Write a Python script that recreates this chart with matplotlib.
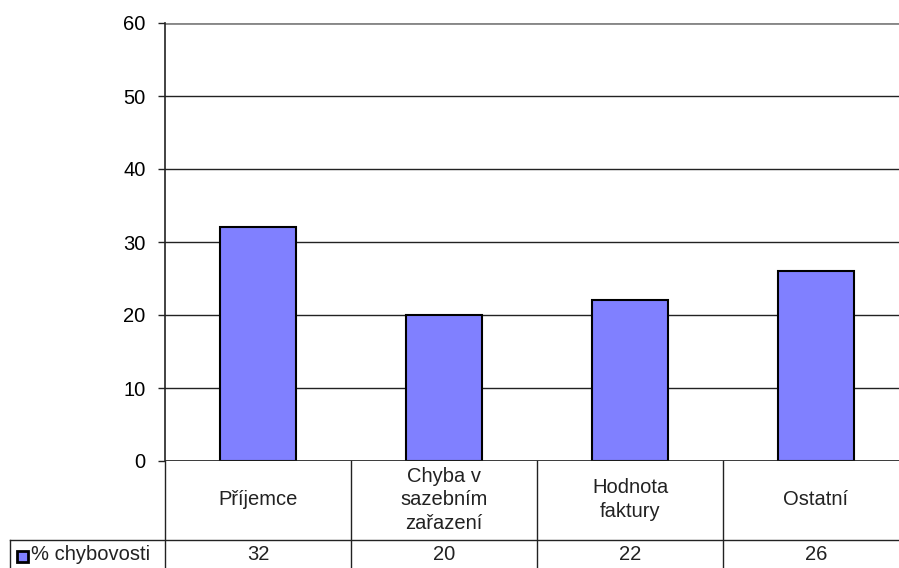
import matplotlib.pyplot as plt
from matplotlib.lines import Line2D
from matplotlib.patches import Rectangle

categories = ['Příjemce', 'Chyba v\nsazebním\nzařazení', 'Hodnota\nfaktury', 'Ostatní']
values = [32, 20, 22, 26]
series_name = '% chybovosti'
yticks = [0, 10, 20, 30, 40, 50, 60]

bar_color = '#8080FF'
plt.rcParams['font.family'] = ['Liberation Sans', 'DejaVu Sans']

fig = plt.figure(figsize=(8.99, 5.68), dpi=100)
# plot area runs past the right edge, like the cropped original
ax = fig.add_axes([165 / 899, 107 / 568, 744 / 899, 438 / 568])

x = list(range(len(categories)))
ax.bar(x, values, width=0.41, color=bar_color, edgecolor='black', linewidth=1.5, zorder=3)

ax.set_xlim(-0.5, len(categories) - 0.5)
ax.set_ylim(0, 60)
ax.set_yticks(yticks)
ax.yaxis.grid(True, color='#222222', linewidth=1.0, zorder=0)
ax.tick_params(axis='y', length=5, width=1, labelsize=14.5, pad=9, color='#222222')
ax.tick_params(axis='x', bottom=False, labelbottom=False)
for side in ['top', 'right', 'bottom']:
    ax.spines[side].set_visible(False)
ax.spines['left'].set_linewidth(1.2)
ax.spines['left'].set_color('#222222')
ax.axhline(60, color='#888888', linewidth=2, zorder=2)
ax.axhline(0, color='#222222', linewidth=1.2, zorder=4)

# data table under the chart
trans = ax.get_xaxis_transform()
row1 = -79 / 438
row2 = -112 / 438
line_kw = dict(color='#222222', linewidth=1.0, transform=trans, clip_on=False)
left_edge = -0.5 - 155 / 186
fs = 14.5

for b in [i - 0.5 for i in range(len(categories) + 1)]:
    ax.add_line(Line2D([b, b], [0, row2], **line_kw))
ax.add_line(Line2D([left_edge, len(categories)], [row1, row1], **line_kw))
ax.add_line(Line2D([left_edge, left_edge], [row1, row2], **line_kw))

for i, (cat, v) in enumerate(zip(categories, values)):
    ax.text(i, row1 / 2 + 0.002, cat, transform=trans, ha='center', va='center',
            fontsize=fs, linespacing=1.3, color='#222222', clip_on=False)
    ax.text(i, (row1 + row2) / 2 + 0.005, str(v), transform=trans, ha='center', va='center',
            fontsize=fs, color='#222222', clip_on=False)

# legend key in the table row header
ax.add_patch(Rectangle((left_edge + 0.037, (row1 + row2) / 2 - 0.012), 0.06, 0.024,
                       transform=trans, facecolor=bar_color, edgecolor='black',
                       linewidth=2, clip_on=False))
ax.text(left_edge + 0.113, (row1 + row2) / 2 + 0.005, series_name, transform=trans,
        ha='left', va='center', fontsize=fs, color='#222222', clip_on=False)

fig.savefig('out.png', dpi=100)
